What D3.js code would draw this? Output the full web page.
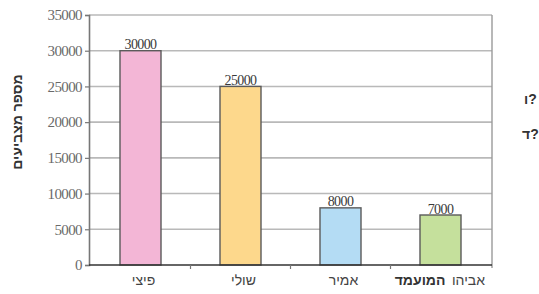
<!DOCTYPE html>
<html>
<head>
<meta charset="utf-8">
<script src="https://cdn.jsdelivr.net/npm/d3@7"></script>
<style>
  html, body { margin: 0; padding: 0; background: #fff; }
  svg { display: block; }
</style>
</head>
<body>
<svg id="chart" width="539" height="294"></svg>
<script>
const categories = ["פיצי", "שולי", "אמיר", "אביהו"];
const values = [30000, 25000, 8000, 7000];
const colors = ["#f3b6d6", "#fdd88c", "#b4dcf4", "#c5e09c"];
const yTicks = [0, 5000, 10000, 15000, 20000, 25000, 30000, 35000];
const yTitle = "מספר מצביעים";
const xTitle = "המועמד";
const sideTexts = ["ו?", "ד?"];

const svg = d3.select("#chart");
const L = 89, R = 492, T = 15, B = 265;

const x = d3.scaleBand().domain(categories).range([L, R]).paddingInner(0.59).paddingOuter(0.31);
const y = d3.scaleLinear().domain([0, 35000]).range([B, T]);

// gridlines
svg.append("g").selectAll("line").data(yTicks.filter(d => d > 0)).join("line")
  .attr("x1", L).attr("x2", R)
  .attr("y1", d => y(d)).attr("y2", d => y(d))
  .attr("stroke", "#b9b9b9").attr("stroke-width", 1.6);

// right border
svg.append("line").attr("x1", R).attr("x2", R).attr("y1", T).attr("y2", B + 3)
  .attr("stroke", "#9a9a9a").attr("stroke-width", 1.4);

// bars
svg.append("g").selectAll("rect").data(values).join("rect")
  .attr("x", (d, i) => x(categories[i]))
  .attr("y", d => y(d))
  .attr("width", x.bandwidth())
  .attr("height", d => B - y(d))
  .attr("fill", (d, i) => colors[i])
  .attr("stroke", "#5a5a5a").attr("stroke-width", 1.4);

// value labels
svg.append("g").selectAll("text").data(values).join("text")
  .attr("x", (d, i) => x(categories[i]) + x.bandwidth() / 2)
  .attr("y", d => y(d) - 1.5)
  .attr("text-anchor", "middle")
  .attr("font-family", "Liberation Serif, Times New Roman, serif")
  .attr("font-size", 14).attr("letter-spacing", -0.6)
  .attr("fill", "#3a3a3a")
  .text(d => d);

// y axis
const yAxis = svg.append("g").attr("transform", `translate(${L},0)`)
  .call(d3.axisLeft(y).tickValues(yTicks).tickSize(4).tickPadding(3).tickFormat(d => d));
yAxis.select(".domain").attr("stroke", "#777").attr("stroke-width", 1.6);
yAxis.selectAll(".tick line").attr("stroke", "#777").attr("stroke-width", 1.2);
yAxis.selectAll(".tick text")
  .attr("font-family", "Liberation Serif, Times New Roman, serif")
  .attr("font-size", 15).attr("letter-spacing", -0.6)
  .attr("fill", "#6a6a6a");

// x axis line
svg.append("line").attr("x1", L).attr("x2", R).attr("y1", B).attr("y2", B)
  .attr("stroke", "#333").attr("stroke-width", 1.6);

// x boundary ticks
const step = x.step();
svg.append("g").selectAll("line").data(categories.slice(1)).join("line")
  .attr("x1", d => x(d) - step * x.paddingInner() / 2)
  .attr("x2", d => x(d) - step * x.paddingInner() / 2)
  .attr("y1", B).attr("y2", B + 4)
  .attr("stroke", "#777").attr("stroke-width", 1.2);

// category labels
svg.append("g").selectAll("text").data(categories).join("text")
  .attr("x", d => x(d) + x.bandwidth() / 2 + (d === categories[categories.length - 1] ? 28 : 3))
  .attr("y", 285)
  .attr("text-anchor", "middle")
  .attr("font-family", "Liberation Sans, Arial, sans-serif")
  .attr("font-size", 14)
  .attr("fill", "#444")
  .text(d => d);

// x title
svg.append("text")
  .attr("x", x(categories[categories.length - 1]) + x.bandwidth() / 2 + 5)
  .attr("y", 285)
  .attr("text-anchor", "end")
  .attr("font-family", "Liberation Sans, Arial, sans-serif")
  .attr("font-size", 14).attr("font-weight", "bold")
  .attr("fill", "#333")
  .text(xTitle);

// y title
svg.append("text")
  .attr("transform", `translate(22,${(T + B) / 2 - 18}) rotate(-90)`)
  .attr("text-anchor", "middle")
  .attr("font-family", "Liberation Sans, Arial, sans-serif")
  .attr("font-size", 14).attr("font-weight", "bold")
  .attr("fill", "#333")
  .text(yTitle);

// side fragments (RTL sentence endings at the picture edge)
svg.append("g").selectAll("text").data(sideTexts).join("text")
  .attr("x", (d, i) => i === 0 ? 524 : 522)
  .attr("y", (d, i) => i === 0 ? 104 : 139)
  .attr("font-family", "Liberation Sans, Arial, sans-serif")
  .attr("font-size", 14).attr("font-weight", "bold")
  .attr("fill", "#333")
  .text(d => d);
</script>
</body>
</html>
